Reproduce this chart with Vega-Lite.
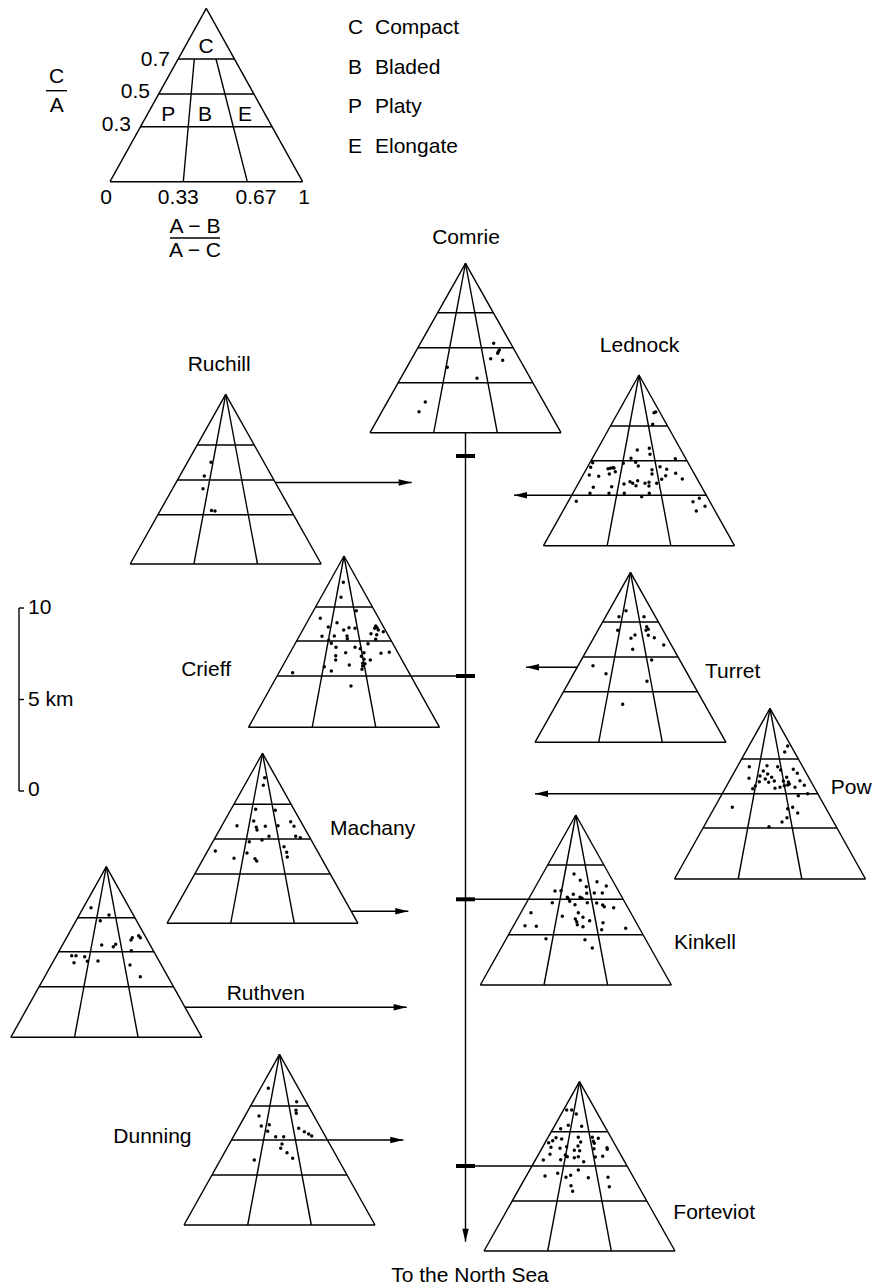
{
  "$schema": "https://vega.github.io/schema/vega-lite/v6.json",
  "autosize": {"type": "fit", "contains": "padding"},
  "width": 872,
  "height": 1286,
  "padding": 0,
  "background": "white",
  "config": {"view": {"stroke": null}, "text": {"font": "Liberation Sans", "fontSize": 21, "color": "black"}},
  "datasets": {
    "lines": [
      {"x":206.3,"y":8.3,"x2":110,"y2":181.7},{"x":206.3,"y":8.3,"x2":302.6,"y2":181.7},{"x":110,"y":181.7,"x2":302.6,"y2":181.7},
      {"x":178.1,"y":59,"x2":234.5,"y2":59},{"x":158.7,"y":94,"x2":253.9,"y2":94},{"x":140.5,"y":126.7,"x2":272,"y2":126.7},
      {"x":194.3,"y":59,"x2":183.3,"y2":181.7},{"x":216,"y":59,"x2":247.3,"y2":181.7},

      {"x":465.5,"y":263.3,"x2":370,"y2":432.7},{"x":465.5,"y":263.3,"x2":561,"y2":432.7},{"x":370,"y":432.7,"x2":561,"y2":432.7},
      {"x":437.7,"y":312.7,"x2":493.4,"y2":312.7},{"x":417.9,"y":347.7,"x2":513.1,"y2":347.7},{"x":398.2,"y":382.7,"x2":532.8,"y2":382.7},
      {"x":465.5,"y":263.3,"x2":433.7,"y2":432.7},{"x":465.5,"y":263.3,"x2":497.3,"y2":432.7},

      {"x":225.7,"y":394.3,"x2":130.2,"y2":564},{"x":225.7,"y":394.3,"x2":321.2,"y2":564},{"x":130.2,"y":564,"x2":321.2,"y2":564},
      {"x":197.2,"y":445,"x2":254.2,"y2":445},{"x":177.5,"y":480,"x2":273.9,"y2":480},{"x":157.9,"y":514.7,"x2":293.5,"y2":514.7},
      {"x":225.7,"y":394.3,"x2":193.9,"y2":564},{"x":225.7,"y":394.3,"x2":257.5,"y2":564},

      {"x":639,"y":375,"x2":543.5,"y2":545.7},{"x":639,"y":375,"x2":734.5,"y2":545.7},{"x":543.5,"y":545.7,"x2":734.5,"y2":545.7},
      {"x":610.5,"y":426,"x2":667.5,"y2":426},{"x":591.1,"y":460.7,"x2":687,"y2":460.7},{"x":571.7,"y":495.3,"x2":706.3,"y2":495.3},
      {"x":639,"y":375,"x2":607.2,"y2":545.7},{"x":639,"y":375,"x2":670.8,"y2":545.7},

      {"x":344,"y":556,"x2":248.5,"y2":727.3},{"x":344,"y":556,"x2":439.5,"y2":727.3},{"x":248.5,"y":727.3,"x2":439.5,"y2":727.3},
      {"x":315.6,"y":607,"x2":372.4,"y2":607},{"x":296.6,"y":641,"x2":391.4,"y2":641},{"x":277.1,"y":676,"x2":410.9,"y2":676},
      {"x":344,"y":556,"x2":312.2,"y2":727.3},{"x":344,"y":556,"x2":375.8,"y2":727.3},

      {"x":630.5,"y":572.3,"x2":535,"y2":742.3},{"x":630.5,"y":572.3,"x2":726,"y2":742.3},{"x":535,"y":742.3,"x2":726,"y2":742.3},
      {"x":602.6,"y":622,"x2":658.4,"y2":622},{"x":582.9,"y":657,"x2":678.1,"y2":657},{"x":563.4,"y":691.7,"x2":697.6,"y2":691.7},
      {"x":630.5,"y":572.3,"x2":598.7,"y2":742.3},{"x":630.5,"y":572.3,"x2":662.3,"y2":742.3},

      {"x":770,"y":708.3,"x2":674.5,"y2":879},{"x":770,"y":708.3,"x2":865.5,"y2":879},{"x":674.5,"y":879,"x2":865.5,"y2":879},
      {"x":741.6,"y":759,"x2":798.4,"y2":759},{"x":722.2,"y":793.7,"x2":817.8,"y2":793.7},{"x":703,"y":828,"x2":837,"y2":828},
      {"x":770,"y":708.3,"x2":738.2,"y2":879},{"x":770,"y":708.3,"x2":801.8,"y2":879},

      {"x":262.5,"y":753.3,"x2":167,"y2":923.3},{"x":262.5,"y":753.3,"x2":358,"y2":923.3},{"x":167,"y":923.3,"x2":358,"y2":923.3},
      {"x":233.9,"y":804.3,"x2":291.2,"y2":804.3},{"x":214.4,"y":839,"x2":310.6,"y2":839},{"x":194.7,"y":874,"x2":330.3,"y2":874},
      {"x":262.5,"y":753.3,"x2":230.7,"y2":923.3},{"x":262.5,"y":753.3,"x2":294.3,"y2":923.3},

      {"x":106.3,"y":866.7,"x2":10.8,"y2":1037.3},{"x":106.3,"y":866.7,"x2":201.8,"y2":1037.3},{"x":10.8,"y":1037.3,"x2":201.8,"y2":1037.3},
      {"x":77.8,"y":917.7,"x2":134.9,"y2":917.7},{"x":58.7,"y":951.7,"x2":153.9,"y2":951.7},{"x":39.1,"y":986.7,"x2":173.5,"y2":986.7},
      {"x":106.3,"y":866.7,"x2":74.5,"y2":1037.3},{"x":106.3,"y":866.7,"x2":138.1,"y2":1037.3},

      {"x":575.8,"y":815,"x2":480.3,"y2":985},{"x":575.8,"y":815,"x2":671.3,"y2":985},{"x":480.3,"y":985,"x2":671.3,"y2":985},
      {"x":547.7,"y":865,"x2":603.9,"y2":865},{"x":528.4,"y":899.3,"x2":623.2,"y2":899.3},{"x":508.6,"y":934.7,"x2":643,"y2":934.7},
      {"x":575.8,"y":815,"x2":544,"y2":985},{"x":575.8,"y":815,"x2":607.6,"y2":985},

      {"x":279.5,"y":1054.3,"x2":184,"y2":1225},{"x":279.5,"y":1054.3,"x2":375,"y2":1225},{"x":184,"y":1225,"x2":375,"y2":1225},
      {"x":250.6,"y":1106,"x2":308.4,"y2":1106},{"x":231.6,"y":1140,"x2":327.5,"y2":1140},{"x":212,"y":1175,"x2":347,"y2":1175},
      {"x":279.5,"y":1054.3,"x2":247.7,"y2":1225},{"x":279.5,"y":1054.3,"x2":311.3,"y2":1225},

      {"x":579.5,"y":1081.7,"x2":484,"y2":1251},{"x":579.5,"y":1081.7,"x2":675,"y2":1251},{"x":484,"y":1251,"x2":675,"y2":1251},
      {"x":551.3,"y":1131.7,"x2":607.7,"y2":1131.7},{"x":532,"y":1166,"x2":627.1,"y2":1166},{"x":512.2,"y":1201,"x2":646.8,"y2":1201},
      {"x":579.5,"y":1081.7,"x2":547.7,"y2":1251},{"x":579.5,"y":1081.7,"x2":611.3,"y2":1251},

      {"x":275,"y":482.5,"x2":411.7,"y2":482.5},
      {"x":571.7,"y":495.3,"x2":514,"y2":495.3},
      {"x":410.9,"y":676,"x2":465.5,"y2":676},
      {"x":577,"y":667.3,"x2":526,"y2":667.3},
      {"x":722.2,"y":793.7,"x2":535,"y2":793.7},
      {"x":351.3,"y":911.3,"x2":408.3,"y2":911.3},
      {"x":185,"y":1007.3,"x2":406.7,"y2":1007.3},
      {"x":465.5,"y":899.3,"x2":528.4,"y2":899.3},
      {"x":327.5,"y":1140,"x2":403.3,"y2":1140},
      {"x":465.5,"y":1166,"x2":532,"y2":1166},
      {"x":465.5,"y":432.7,"x2":465.5,"y2":1241.7},
      {"x":19,"y":608,"x2":19,"y2":791},{"x":19,"y":608,"x2":24,"y2":608},{"x":19,"y":699.5,"x2":24,"y2":699.5},{"x":19,"y":791,"x2":24,"y2":791},
      {"x":46,"y":90.7,"x2":67,"y2":90.7},{"x":170,"y":238,"x2":220,"y2":238}
    ],
    "ticks": [
      {"x":456,"y":456,"x2":475,"y2":456},{"x":456,"y":676,"x2":475,"y2":676},{"x":456,"y":899.3,"x2":475,"y2":899.3},{"x":456,"y":1166,"x2":475,"y2":1166}
    ],
    "heads": [
      {"x":411.7,"y":482.5,"dir":"right"},{"x":514,"y":495.3,"dir":"left"},{"x":526,"y":667.3,"dir":"left"},{"x":535,"y":793.7,"dir":"left"},
      {"x":408.3,"y":911.3,"dir":"right"},{"x":406.7,"y":1007.3,"dir":"right"},{"x":403.3,"y":1140,"dir":"right"},{"x":465.5,"y":1241.7,"dir":"down"}
    ],
    "dots": [
      {"s":"Comrie","x":493.7,"y":343.3},{"s":"Comrie","x":499.3,"y":350},{"s":"Comrie","x":498.3,"y":351.7},{"s":"Comrie","x":497.7,"y":353.3},{"s":"Comrie","x":490.7,"y":358.7},{"s":"Comrie","x":502.7,"y":360.3},{"s":"Comrie","x":447.3,"y":367.3},{"s":"Comrie","x":477,"y":378.3},{"s":"Comrie","x":425.3,"y":402},{"s":"Comrie","x":419,"y":411.7},
      {"s":"Ruchill","x":211,"y":462.3},{"s":"Ruchill","x":204.3,"y":476},{"s":"Ruchill","x":203,"y":488.7},{"s":"Ruchill","x":211.5,"y":510.5},{"s":"Ruchill","x":215,"y":511},
      {"s":"Lednock","x":654,"y":412.7},{"s":"Lednock","x":655.7,"y":412},{"s":"Lednock","x":652.7,"y":424.3},{"s":"Lednock","x":637.3,"y":450},{"s":"Lednock","x":649.3,"y":448.3},{"s":"Lednock","x":650,"y":454.3},{"s":"Lednock","x":631,"y":458.3},{"s":"Lednock","x":675.3,"y":458.7},{"s":"Lednock","x":592.7,"y":462.7},{"s":"Lednock","x":590.7,"y":467.3},{"s":"Lednock","x":608,"y":468.7},{"s":"Lednock","x":610.3,"y":468.3},{"s":"Lednock","x":612.7,"y":467.7},{"s":"Lednock","x":614,"y":468},{"s":"Lednock","x":615.3,"y":471.7},{"s":"Lednock","x":609.3,"y":474},{"s":"Lednock","x":623.3,"y":463.3},{"s":"Lednock","x":635.7,"y":462.3},{"s":"Lednock","x":638.3,"y":466},{"s":"Lednock","x":652,"y":469.7},{"s":"Lednock","x":660,"y":466.7},{"s":"Lednock","x":666.7,"y":469.3},{"s":"Lednock","x":652,"y":474},{"s":"Lednock","x":665.7,"y":475.7},{"s":"Lednock","x":675.7,"y":473.3},{"s":"Lednock","x":589.3,"y":475},{"s":"Lednock","x":598.7,"y":476.3},{"s":"Lednock","x":661.7,"y":479.3},{"s":"Lednock","x":682.3,"y":479},{"s":"Lednock","x":630,"y":481.7},{"s":"Lednock","x":632.7,"y":483.3},{"s":"Lednock","x":636,"y":485.7},{"s":"Lednock","x":637.7,"y":480.7},{"s":"Lednock","x":645,"y":483.3},{"s":"Lednock","x":649,"y":482.3},{"s":"Lednock","x":649,"y":486},{"s":"Lednock","x":656.7,"y":483.3},{"s":"Lednock","x":624,"y":484},{"s":"Lednock","x":593.3,"y":487.3},{"s":"Lednock","x":611.7,"y":486.7},{"s":"Lednock","x":590,"y":493.3},{"s":"Lednock","x":609,"y":493.3},{"s":"Lednock","x":624.3,"y":493.3},{"s":"Lednock","x":649.3,"y":493.3},{"s":"Lednock","x":641.7,"y":496.7},{"s":"Lednock","x":576.3,"y":501.3},{"s":"Lednock","x":693,"y":501.7},{"s":"Lednock","x":699.3,"y":498.3},{"s":"Lednock","x":705,"y":506.3},{"s":"Lednock","x":696.3,"y":511},
      {"s":"Crieff","x":343.3,"y":582.3},{"s":"Crieff","x":341,"y":597.3},{"s":"Crieff","x":356.3,"y":610.7},{"s":"Crieff","x":320.3,"y":618.3},{"s":"Crieff","x":337,"y":622.7},{"s":"Crieff","x":328.3,"y":627},{"s":"Crieff","x":349,"y":627.7},{"s":"Crieff","x":355,"y":628.3},{"s":"Crieff","x":343.7,"y":630},{"s":"Crieff","x":375.7,"y":626},{"s":"Crieff","x":377,"y":627.7},{"s":"Crieff","x":374.7,"y":628.3},{"s":"Crieff","x":378.3,"y":630},{"s":"Crieff","x":383.3,"y":631.7},{"s":"Crieff","x":371,"y":633.7},{"s":"Crieff","x":376.7,"y":634.7},{"s":"Crieff","x":347,"y":636},{"s":"Crieff","x":347.3,"y":638.7},{"s":"Crieff","x":334.3,"y":636},{"s":"Crieff","x":322,"y":636.3},{"s":"Crieff","x":328.7,"y":640.3},{"s":"Crieff","x":331.3,"y":643.3},{"s":"Crieff","x":375.7,"y":639.3},{"s":"Crieff","x":368,"y":643.7},{"s":"Crieff","x":336,"y":647.3},{"s":"Crieff","x":355,"y":647.3},{"s":"Crieff","x":360.3,"y":648.7},{"s":"Crieff","x":345.7,"y":652.7},{"s":"Crieff","x":364,"y":652.7},{"s":"Crieff","x":381,"y":653.3},{"s":"Crieff","x":389.3,"y":652.3},{"s":"Crieff","x":335.7,"y":655.7},{"s":"Crieff","x":361.3,"y":656.3},{"s":"Crieff","x":364,"y":659.3},{"s":"Crieff","x":335.7,"y":660},{"s":"Crieff","x":370.3,"y":660},{"s":"Crieff","x":362.7,"y":663.3},{"s":"Crieff","x":365,"y":663.7},{"s":"Crieff","x":362.7,"y":666},{"s":"Crieff","x":349.3,"y":665},{"s":"Crieff","x":324.3,"y":666.7},{"s":"Crieff","x":362,"y":669.3},{"s":"Crieff","x":331.3,"y":671},{"s":"Crieff","x":292.7,"y":672.7},{"s":"Crieff","x":351,"y":686},
      {"s":"Turret","x":626,"y":610.7},{"s":"Turret","x":619,"y":616.7},{"s":"Turret","x":644,"y":616.7},{"s":"Turret","x":617.7,"y":630.3},{"s":"Turret","x":646.7,"y":626.7},{"s":"Turret","x":646,"y":630.3},{"s":"Turret","x":648.3,"y":629.3},{"s":"Turret","x":635,"y":635},{"s":"Turret","x":631,"y":638.3},{"s":"Turret","x":648.3,"y":635.3},{"s":"Turret","x":654.3,"y":637.7},{"s":"Turret","x":663.7,"y":645},{"s":"Turret","x":632.7,"y":649.3},{"s":"Turret","x":651.7,"y":660},{"s":"Turret","x":593,"y":665.7},{"s":"Turret","x":606,"y":673.7},{"s":"Turret","x":647,"y":681.3},{"s":"Turret","x":622.7,"y":704.3},
      {"s":"Pow","x":787.7,"y":746},{"s":"Pow","x":784.7,"y":752},{"s":"Pow","x":749.3,"y":766.7},{"s":"Pow","x":767,"y":765.7},{"s":"Pow","x":777.7,"y":766.7},{"s":"Pow","x":763.3,"y":771},{"s":"Pow","x":767.7,"y":774},{"s":"Pow","x":760,"y":776},{"s":"Pow","x":771.7,"y":777.3},{"s":"Pow","x":765.3,"y":779},{"s":"Pow","x":749,"y":778.3},{"s":"Pow","x":780.7,"y":770},{"s":"Pow","x":793.3,"y":769.3},{"s":"Pow","x":786.7,"y":777.3},{"s":"Pow","x":797.3,"y":773.3},{"s":"Pow","x":800,"y":780.7},{"s":"Pow","x":759.3,"y":781.7},{"s":"Pow","x":768.7,"y":782.3},{"s":"Pow","x":774.3,"y":781},{"s":"Pow","x":783.3,"y":781},{"s":"Pow","x":788.3,"y":782},{"s":"Pow","x":784.3,"y":785.7},{"s":"Pow","x":787.7,"y":785},{"s":"Pow","x":789.3,"y":784},{"s":"Pow","x":780,"y":787.3},{"s":"Pow","x":775,"y":788.3},{"s":"Pow","x":755.3,"y":786},{"s":"Pow","x":752.7,"y":788.7},{"s":"Pow","x":795,"y":787.3},{"s":"Pow","x":804.3,"y":785.3},{"s":"Pow","x":807.7,"y":793.7},{"s":"Pow","x":798.3,"y":795.7},{"s":"Pow","x":732.3,"y":807.3},{"s":"Pow","x":787.7,"y":808.7},{"s":"Pow","x":792.7,"y":807.3},{"s":"Pow","x":797.7,"y":813},{"s":"Pow","x":787,"y":817.7},{"s":"Pow","x":782,"y":822},{"s":"Pow","x":769,"y":826.7},
      {"s":"Machany","x":264.7,"y":777.7},{"s":"Machany","x":263.3,"y":785.3},{"s":"Machany","x":255.7,"y":809.3},{"s":"Machany","x":275.3,"y":810.3},{"s":"Machany","x":253.7,"y":821},{"s":"Machany","x":237,"y":825.7},{"s":"Machany","x":256.3,"y":827.3},{"s":"Machany","x":257,"y":830},{"s":"Machany","x":265.3,"y":826.3},{"s":"Machany","x":278,"y":825.7},{"s":"Machany","x":290.7,"y":821.7},{"s":"Machany","x":294,"y":826.3},{"s":"Machany","x":269,"y":836.3},{"s":"Machany","x":295.7,"y":836.3},{"s":"Machany","x":300.3,"y":837.7},{"s":"Machany","x":262,"y":840},{"s":"Machany","x":249.3,"y":841.7},{"s":"Machany","x":284,"y":846.7},{"s":"Machany","x":286.7,"y":852.3},{"s":"Machany","x":287.3,"y":857},{"s":"Machany","x":215.3,"y":851},{"s":"Machany","x":247,"y":853},{"s":"Machany","x":234,"y":858.3},{"s":"Machany","x":255,"y":858.7},{"s":"Machany","x":256.7,"y":861},
      {"s":"Ruthven","x":91,"y":907.7},{"s":"Ruthven","x":109,"y":915},{"s":"Ruthven","x":100.3,"y":920.7},{"s":"Ruthven","x":101.7,"y":945},{"s":"Ruthven","x":113.3,"y":946.7},{"s":"Ruthven","x":115.7,"y":944.3},{"s":"Ruthven","x":131,"y":940},{"s":"Ruthven","x":132.3,"y":937.7},{"s":"Ruthven","x":138.7,"y":935.7},{"s":"Ruthven","x":140.3,"y":937.7},{"s":"Ruthven","x":131.3,"y":950.7},{"s":"Ruthven","x":71.7,"y":955.7},{"s":"Ruthven","x":76,"y":955.7},{"s":"Ruthven","x":84.7,"y":956.7},{"s":"Ruthven","x":74,"y":962.7},{"s":"Ruthven","x":87.3,"y":961.3},{"s":"Ruthven","x":98,"y":961},{"s":"Ruthven","x":130,"y":965},{"s":"Ruthven","x":140.3,"y":976.7},
      {"s":"Kinkell","x":574,"y":874},{"s":"Kinkell","x":580.3,"y":880.3},{"s":"Kinkell","x":597,"y":881.7},{"s":"Kinkell","x":606.3,"y":886},{"s":"Kinkell","x":586.3,"y":886.7},{"s":"Kinkell","x":555,"y":891},{"s":"Kinkell","x":561,"y":890.7},{"s":"Kinkell","x":586.7,"y":893.3},{"s":"Kinkell","x":594.3,"y":893},{"s":"Kinkell","x":602.3,"y":893},{"s":"Kinkell","x":573.3,"y":894.3},{"s":"Kinkell","x":567.3,"y":897.3},{"s":"Kinkell","x":568.3,"y":898.7},{"s":"Kinkell","x":580,"y":897.3},{"s":"Kinkell","x":582,"y":898.3},{"s":"Kinkell","x":552.3,"y":902.7},{"s":"Kinkell","x":569.7,"y":901.3},{"s":"Kinkell","x":575,"y":904.7},{"s":"Kinkell","x":587.3,"y":902.7},{"s":"Kinkell","x":596.7,"y":903},{"s":"Kinkell","x":602.7,"y":905},{"s":"Kinkell","x":604.3,"y":906.7},{"s":"Kinkell","x":613.7,"y":907.7},{"s":"Kinkell","x":531,"y":912.7},{"s":"Kinkell","x":578.3,"y":912.7},{"s":"Kinkell","x":562.3,"y":916.3},{"s":"Kinkell","x":583,"y":917.3},{"s":"Kinkell","x":575.3,"y":919},{"s":"Kinkell","x":576.7,"y":921.7},{"s":"Kinkell","x":577.3,"y":924.7},{"s":"Kinkell","x":589.7,"y":920.7},{"s":"Kinkell","x":603,"y":922.7},{"s":"Kinkell","x":525,"y":925.7},{"s":"Kinkell","x":536.3,"y":926.3},{"s":"Kinkell","x":583,"y":926.7},{"s":"Kinkell","x":601.7,"y":929.7},{"s":"Kinkell","x":625.7,"y":928.3},{"s":"Kinkell","x":546,"y":938.7},{"s":"Kinkell","x":585,"y":939.7},{"s":"Kinkell","x":592.3,"y":948},
      {"s":"Dunning","x":268.3,"y":1088.3},{"s":"Dunning","x":296.7,"y":1101.7},{"s":"Dunning","x":296,"y":1110.3},{"s":"Dunning","x":296.3,"y":1113.3},{"s":"Dunning","x":259,"y":1116},{"s":"Dunning","x":261.3,"y":1126},{"s":"Dunning","x":269.3,"y":1124.7},{"s":"Dunning","x":267.7,"y":1131.3},{"s":"Dunning","x":298.7,"y":1128.3},{"s":"Dunning","x":304.3,"y":1131.7},{"s":"Dunning","x":308.7,"y":1134},{"s":"Dunning","x":311.7,"y":1136},{"s":"Dunning","x":275.7,"y":1136.7},{"s":"Dunning","x":283.7,"y":1136.7},{"s":"Dunning","x":282,"y":1144},{"s":"Dunning","x":280.7,"y":1148.3},{"s":"Dunning","x":287,"y":1152.7},{"s":"Dunning","x":292.7,"y":1158.3},{"s":"Dunning","x":254.3,"y":1160},
      {"s":"Forteviot","x":566.7,"y":1110},{"s":"Forteviot","x":571.7,"y":1110},{"s":"Forteviot","x":576.3,"y":1114},{"s":"Forteviot","x":568.3,"y":1125.3},{"s":"Forteviot","x":560.7,"y":1128.7},{"s":"Forteviot","x":581.7,"y":1126.3},{"s":"Forteviot","x":556,"y":1137.7},{"s":"Forteviot","x":552.7,"y":1140.7},{"s":"Forteviot","x":548.7,"y":1142.7},{"s":"Forteviot","x":561.7,"y":1139},{"s":"Forteviot","x":578.3,"y":1137.3},{"s":"Forteviot","x":580.7,"y":1142},{"s":"Forteviot","x":592.3,"y":1137.3},{"s":"Forteviot","x":598.3,"y":1138.3},{"s":"Forteviot","x":593.3,"y":1141.3},{"s":"Forteviot","x":594.3,"y":1143.3},{"s":"Forteviot","x":551,"y":1147.3},{"s":"Forteviot","x":560,"y":1148.3},{"s":"Forteviot","x":566.7,"y":1146.7},{"s":"Forteviot","x":578,"y":1146},{"s":"Forteviot","x":574.3,"y":1150.3},{"s":"Forteviot","x":579.7,"y":1150.7},{"s":"Forteviot","x":594,"y":1148.7},{"s":"Forteviot","x":607,"y":1147.7},{"s":"Forteviot","x":607.3,"y":1149.3},{"s":"Forteviot","x":550,"y":1154.3},{"s":"Forteviot","x":565.3,"y":1155},{"s":"Forteviot","x":567.3,"y":1156.7},{"s":"Forteviot","x":560.7,"y":1159.7},{"s":"Forteviot","x":574.3,"y":1157.7},{"s":"Forteviot","x":578.3,"y":1156.7},{"s":"Forteviot","x":595.3,"y":1157},{"s":"Forteviot","x":602.7,"y":1156.3},{"s":"Forteviot","x":543.3,"y":1160},{"s":"Forteviot","x":583.7,"y":1161.7},{"s":"Forteviot","x":578.3,"y":1170},{"s":"Forteviot","x":545,"y":1176},{"s":"Forteviot","x":557.7,"y":1173.3},{"s":"Forteviot","x":566,"y":1177.3},{"s":"Forteviot","x":570.7,"y":1175.3},{"s":"Forteviot","x":588.3,"y":1177.7},{"s":"Forteviot","x":608,"y":1177.3},{"s":"Forteviot","x":571,"y":1185.7},{"s":"Forteviot","x":609.3,"y":1186.7},{"s":"Forteviot","x":572.7,"y":1191.3}
    ],
    "txt_c": [
      {"x":56.7,"y":77,"t":"C"},{"x":56.7,"y":106,"t":"A"},
      {"x":195,"y":226.5,"t":"A − B"},{"x":195,"y":250.5,"t":"A − C"},
      {"x":206,"y":47,"t":"C"},{"x":168.3,"y":115,"t":"P"},{"x":205,"y":115,"t":"B"},{"x":245,"y":115,"t":"E"},
      {"x":106,"y":198,"t":"0"},{"x":178.3,"y":198,"t":"0.33"},{"x":256,"y":198,"t":"0.67"},{"x":304,"y":198,"t":"1"},
      {"x":466,"y":238,"t":"Comrie"},{"x":219.2,"y":365,"t":"Ruchill"},{"x":639.5,"y":346,"t":"Lednock"},
      {"x":470,"y":1276,"t":"To the North Sea"}
    ],
    "txt_r": [
      {"x":170,"y":60,"t":"0.7"},{"x":150,"y":92,"t":"0.5"},{"x":131,"y":125,"t":"0.3"},
      {"x":231,"y":670,"t":"Crieff"}
    ],
    "txt_l": [
      {"x":348,"y":28,"t":"C"},{"x":375,"y":28,"t":"Compact"},
      {"x":348,"y":68,"t":"B"},{"x":375,"y":68,"t":"Bladed"},
      {"x":348,"y":107,"t":"P"},{"x":375,"y":107,"t":"Platy"},
      {"x":348,"y":147,"t":"E"},{"x":375,"y":147,"t":"Elongate"},
      {"x":705,"y":672,"t":"Turret"},{"x":830.7,"y":788,"t":"Pow"},{"x":330,"y":829,"t":"Machany"},
      {"x":674,"y":943,"t":"Kinkell"},{"x":226.7,"y":994,"t":"Ruthven"},{"x":113.3,"y":1137,"t":"Dunning"},
      {"x":673.3,"y":1213,"t":"Forteviot"},
      {"x":28,"y":608,"t":"10"},{"x":28,"y":699.5,"t":"5 km"},{"x":28,"y":790,"t":"0"}
    ]
  },
  "encoding": {
    "x": {"field": "x", "type": "quantitative", "scale": {"domain": [0, 872], "nice": false, "zero": false}, "axis": null},
    "y": {"field": "y", "type": "quantitative", "scale": {"domain": [0, 1286], "nice": false, "zero": false, "reverse": true}, "axis": null}
  },
  "layer": [
    {"data": {"name": "lines"}, "mark": {"type": "rule", "color": "black", "strokeWidth": 1.4},
     "encoding": {"x2": {"field": "x2"}, "y2": {"field": "y2"}}},
    {"data": {"name": "ticks"}, "mark": {"type": "rule", "color": "black", "strokeWidth": 4},
     "encoding": {"x2": {"field": "x2"}, "y2": {"field": "y2"}}},
    {"data": {"name": "heads"}, "mark": {"type": "point", "filled": true, "color": "black", "opacity": 1, "size": 169, "strokeWidth": 0},
     "encoding": {"shape": {"field": "dir", "type": "nominal", "legend": null,
       "scale": {"domain": ["right", "left", "down"], "range": ["M0,0L-2,-0.5L-2,0.5Z", "M0,0L2,-0.5L2,0.5Z", "M0,0L-0.5,-2L0.5,-2Z"]}}}},
    {"data": {"name": "dots"}, "mark": {"type": "point", "shape": "circle", "filled": true, "color": "black", "opacity": 1, "size": 12, "strokeWidth": 0}},
    {"data": {"name": "txt_c"}, "mark": {"type": "text", "align": "center", "baseline": "middle"}, "encoding": {"text": {"field": "t"}}},
    {"data": {"name": "txt_r"}, "mark": {"type": "text", "align": "right", "baseline": "middle"}, "encoding": {"text": {"field": "t"}}},
    {"data": {"name": "txt_l"}, "mark": {"type": "text", "align": "left", "baseline": "middle"}, "encoding": {"text": {"field": "t"}}}
  ]
}
